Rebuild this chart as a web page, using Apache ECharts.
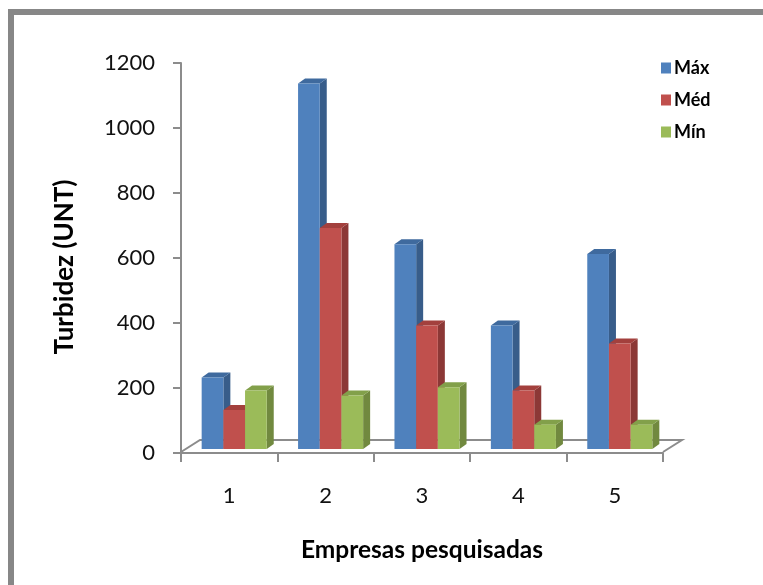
<!DOCTYPE html>
<html>
<head>
<meta charset="utf-8">
<title>Turbidez (UNT)</title>
<script src="https://cdn.jsdelivr.net/npm/echarts@6/dist/echarts.min.js"></script>
<style>
  html, body { margin: 0; padding: 0; background: #ffffff; }
  #chart { width: 763px; height: 585px; }
</style>
</head>
<body>
<div id="chart"></div>
<script>
// Companies surveyed and turbidity readings (UNT)
const empresas = ['1', '2', '3', '4', '5'];
const maxValues = [220, 1125, 630, 380, 600];
const medValues = [120, 680, 380, 180, 325];
const minValues = [180, 165, 190, 75, 75];
const seriesNames = ['Máx', 'Méd', 'Mín'];
const yTicks = { min: 0, max: 1200, interval: 200 };

// front / side / top face colours of the extruded columns
const palette = [
  { front: '#4F81BD', side: '#385D8A', top: '#3F6A9E' },
  { front: '#C0504D', side: '#8C3836', top: '#A3403D' },
  { front: '#9BBB59', side: '#71893F', top: '#82A04A' }
];

const DEPTH_X = 7;     // oblique depth of each column
const DEPTH_Y = 5;
const LIFT = 4;        // columns stand slightly behind the front edge of the floor
const FLOOR_X = 19;    // depth of the floor plane
const FLOOR_Y = 12;

function columnRenderer(slot) {
  const c = palette[slot];
  return function (params, api) {
    const idx = api.value(0);
    const top = api.coord([idx, api.value(1)]);
    const base = api.coord([idx, 0]);
    const band = api.size([1, 0])[0];
    const w = band * 0.225;
    const groupLeft = base[0] - 1.5 * w + 5;
    const x = groupLeft + slot * w;
    const yTop = top[1] - LIFT;
    const yBot = base[1] - LIFT;
    return {
      type: 'group',
      children: [
        {
          type: 'polygon',
          shape: { points: [[x + w, yTop], [x + w + DEPTH_X, yTop - DEPTH_Y], [x + w + DEPTH_X, yBot - DEPTH_Y], [x + w, yBot]] },
          style: { fill: c.side }
        },
        {
          type: 'polygon',
          shape: { points: [[x, yTop], [x + DEPTH_X, yTop - DEPTH_Y], [x + w + DEPTH_X, yTop - DEPTH_Y], [x + w, yTop]] },
          style: { fill: c.top }
        },
        {
          type: 'rect',
          shape: { x: x, y: yTop, width: w, height: yBot - yTop },
          style: { fill: c.front }
        }
      ]
    };
  };
}

function floorRenderer(params, api) {
  const band = api.size([1, 0])[0];
  const first = api.coord([0, 0]);
  const last = api.coord([empresas.length - 1, 0]);
  const left = first[0] - band / 2;
  const right = last[0] + band / 2;
  const y = first[1] - 1;
  return {
    type: 'polyline',
    shape: { points: [[left, y], [left + FLOOR_X, y - FLOOR_Y], [right + FLOOR_X, y - FLOOR_Y], [right, y]] },
    style: { stroke: '#8C8C8C', lineWidth: 2, fill: null }
  };
}

function toData(values) {
  return values.map((v, i) => [i, v]);
}

const valueSets = [maxValues, medValues, minValues];

const chart = echarts.init(document.getElementById('chart'));
chart.setOption({
  animation: false,
  backgroundColor: '#ffffff',
  textStyle: { fontFamily: 'Lato, "Liberation Sans", sans-serif' },
  graphic: [
    {
      type: 'rect',
      shape: { x: 11, y: 12, width: 800, height: 620 },
      style: { fill: null, stroke: '#878787', lineWidth: 6 },
      silent: true
    }
  ],
  grid: { left: 181, top: 63, width: 482, height: 390 },
  legend: {
    orient: 'vertical',
    left: 661,
    top: 59,
    padding: 0,
    itemWidth: 10,
    itemHeight: 11,
    itemGap: 14,
    icon: 'rect',
    data: seriesNames,
    textStyle: { fontSize: 18, fontWeight: 'bold', color: '#000000', padding: [0, 0, 0, -2] }
  },
  xAxis: {
    type: 'category',
    data: empresas,
    name: 'Empresas pesquisadas',
    nameLocation: 'middle',
    nameGap: 85,
    nameTextStyle: { fontSize: 24.5, fontWeight: 'bold', color: '#000000' },
    axisLine: { show: true, lineStyle: { color: '#8C8C8C', width: 2 } },
    axisTick: { show: true, alignWithLabel: false, length: 9, lineStyle: { color: '#8C8C8C', width: 2 } },
    axisLabel: { fontSize: 22, color: '#111111', margin: 32 },
    splitLine: { show: false }
  },
  yAxis: {
    type: 'value',
    min: yTicks.min,
    max: yTicks.max,
    interval: yTicks.interval,
    name: 'Turbidez (UNT)',
    nameLocation: 'middle',
    nameGap: 103,
    nameTextStyle: { fontSize: 26, fontWeight: 'bold', color: '#000000', padding: [0, 18, 0, 0] },
    axisLine: { show: true, lineStyle: { color: '#8C8C8C', width: 2 } },
    axisTick: { show: true, length: 8, lineStyle: { color: '#8C8C8C', width: 2 } },
    axisLabel: { fontSize: 22, color: '#111111', margin: 26, formatter: (v) => String(v) },
    splitLine: { show: false }
  },
  series: [
    {
      type: 'custom',
      name: 'floor',
      silent: true,
      z: 1,
      renderItem: floorRenderer,
      data: [[0, 0]],
      encode: { x: 0, y: 1 }
    }
  ].concat(seriesNames.map((name, slot) => ({
    type: 'custom',
    name: name,
    z: 2 + slot,
    itemStyle: { color: palette[slot].front },
    renderItem: columnRenderer(slot),
    data: toData(valueSets[slot]),
    encode: { x: 0, y: 1 }
  })))
});
</script>
</body>
</html>
